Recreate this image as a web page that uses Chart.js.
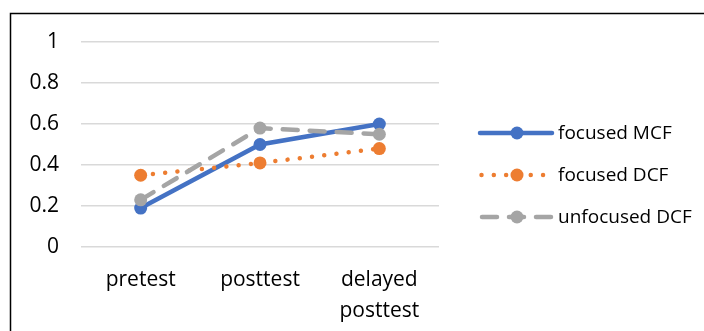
<!DOCTYPE html>
<html>
<head>
<meta charset="utf-8">
<script src="https://cdn.jsdelivr.net/npm/chart.js@4/dist/chart.umd.min.js"></script>
<style>
  html, body { margin: 0; padding: 0; background: #fff; overflow: hidden; }
  canvas { display: block; }
</style>
</head>
<body>
<canvas id="c" width="704" height="331"></canvas>
<script>
// Test phases on the x axis
const categories = ['pretest', 'posttest', ['delayed', 'posttest']];

// Mean scores per condition
const focusedMCF = [0.19, 0.50, 0.60];
const focusedDCF = [0.35, 0.41, 0.48];
const unfocusedDCF = [0.23, 0.58, 0.55];

const seriesNames = ['focused MCF', 'focused DCF', 'unfocused DCF'];

const FONT = "'Open Sans', 'Liberation Sans', sans-serif";

// Outer frame: only its top and left edges fall inside the canvas
const outerFrame = {
  id: 'outerFrame',
  beforeDraw(chart) {
    const ctx = chart.ctx;
    ctx.save();
    ctx.fillStyle = '#fff';
    ctx.fillRect(0, 0, chart.width, chart.height);
    ctx.strokeStyle = '#000';
    ctx.lineWidth = 1.5;
    ctx.beginPath();
    ctx.moveTo(10.5, chart.height + 2);
    ctx.lineTo(10.5, 13.5);
    ctx.lineTo(chart.width + 2, 13.5);
    ctx.stroke();
    ctx.restore();
  }
};

// Legend drawn at the right, each entry a short line sample with a marker
const sideLegend = {
  id: 'sideLegend',
  afterDraw(chart) {
    const ctx = chart.ctx;
    const x0 = 480, x1 = 552, xm = 517, tx = 558;
    const rows = [133, 175, 217];
    chart.data.datasets.forEach((ds, i) => {
      const y = rows[i];
      ctx.save();
      ctx.strokeStyle = ds.borderColor;
      ctx.lineWidth = ds.borderWidth;
      ctx.lineCap = ds.borderCapStyle || 'butt';
      ctx.setLineDash(ds.borderDash || []);
      ctx.lineDashOffset = ds.legendDashOffset || 0;
      ctx.beginPath();
      ctx.moveTo(x0, y);
      ctx.lineTo(x1, y);
      ctx.stroke();
      ctx.setLineDash([]);
      ctx.fillStyle = ds.pointBackgroundColor;
      ctx.beginPath();
      ctx.arc(xm, y, ds.pointRadius, 0, Math.PI * 2);
      ctx.fill();
      ctx.fillStyle = '#000';
      ctx.font = '19px ' + FONT;
      ctx.textBaseline = 'middle';
      ctx.textAlign = 'left';
      ctx.fillText(ds.label, tx, y + 1);
      ctx.restore();
    });
  }
};

new Chart(document.getElementById('c'), {
  type: 'line',
  data: {
    labels: categories,
    datasets: [
      {
        label: seriesNames[0],
        data: focusedMCF,
        borderColor: '#4472C4',
        backgroundColor: '#4472C4',
        pointBackgroundColor: '#4472C4',
        pointBorderColor: '#4472C4',
        borderWidth: 4.5,
        pointRadius: 6.5,
        pointBorderWidth: 0,
        borderCapStyle: 'round',
        order: 3
      },
      {
        label: seriesNames[1],
        data: focusedDCF,
        borderColor: '#ED7D31',
        backgroundColor: '#ED7D31',
        pointBackgroundColor: '#ED7D31',
        pointBorderColor: '#ED7D31',
        borderWidth: 4.5,
        borderDash: [0.01, 12.3],
        borderCapStyle: 'round',
        legendDashOffset: -1.5,
        pointRadius: 6.5,
        pointBorderWidth: 0,
        order: 2
      },
      {
        label: seriesNames[2],
        data: unfocusedDCF,
        borderColor: '#A5A5A5',
        backgroundColor: '#A5A5A5',
        pointBackgroundColor: '#A5A5A5',
        pointBorderColor: '#A5A5A5',
        borderWidth: 4.5,
        borderDash: [15, 12],
        borderCapStyle: 'round',
        legendDashOffset: -2,
        pointRadius: 6.5,
        pointBorderWidth: 0,
        order: 1
      }
    ]
  },
  options: {
    responsive: false,
    animation: false,
    events: [],
    layout: { padding: { left: 0, right: 265, top: 42, bottom: 0 } },
    plugins: {
      legend: { display: false },
      tooltip: { enabled: false }
    },
    scales: {
      x: {
        offset: true,
        grid: { display: false, drawTicks: false },
        border: { display: false },
        ticks: {
          color: '#000',
          font: { family: FONT, size: 21, lineHeight: 1.45 },
          padding: 18,
          maxRotation: 0,
          autoSkip: false
        },
        afterFit(scale) { scale.height = 84; }
      },
      y: {
        min: 0,
        max: 1,
        grid: { color: '#D9D9D9', lineWidth: 1.5, drawTicks: false },
        border: { display: false },
        ticks: {
          stepSize: 0.2,
          color: '#000',
          font: { family: FONT, size: 21 },
          padding: 22,
          callback: v => String(Math.round(v * 10) / 10)
        },
        afterFit(scale) { scale.width = 81; }
      }
    }
  },
  plugins: [outerFrame, sideLegend]
});
</script>
</body>
</html>
